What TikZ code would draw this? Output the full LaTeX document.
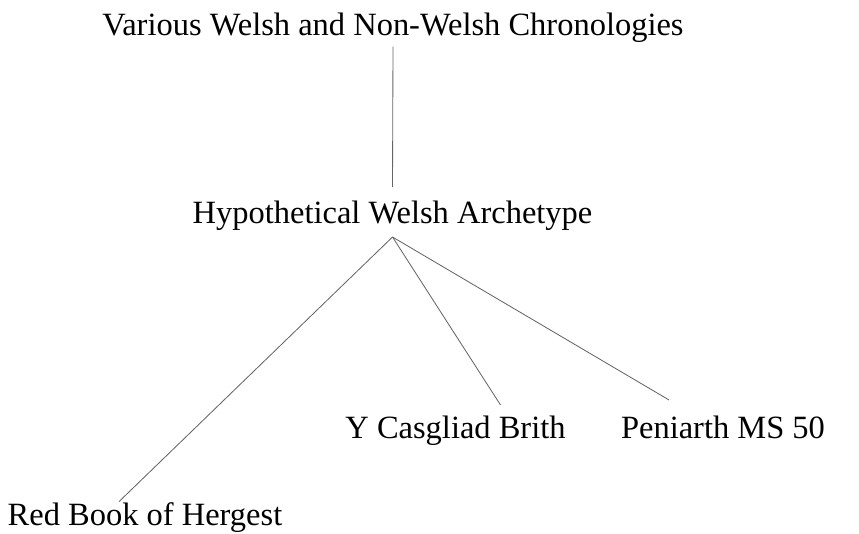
\documentclass[tikz,border=0pt]{standalone}
\usepackage{fontspec}
\setmainfont{Liberation Serif}
\usetikzlibrary{calc}

\begin{document}
\begin{tikzpicture}[x=0.025cm,y=-0.025cm,
 ms/.style={anchor=base,inner sep=3pt,font=\fontsize{23.1}{27}\selectfont},
 link/.style={draw=black!60,line width=0.6pt}]
\useasboundingbox (0,0) rectangle (859,533);
\node[ms] (title) at (393,35) {Various Welsh and Non-Welsh Chronologies};
\node[ms] (arch) at (392.5,223) {Hypothetical Welsh Archetype};
\node[ms] (red) at (145,525) {Red Book of Hergest};
\node[ms] (brith) at (455.5,438) {Y Casgliad Brith};
\node[ms] (pen) at (723,438) {Peniarth MS 50};
\coordinate (apex) at ($(arch.base)+(0,14)$);
\draw[link] (title.south) -- ($(arch.base)+(0,-36)$);
\draw[link] (apex) -- ($(red.north)+(-26,4)$);
\draw[link] (apex) -- ($(brith.north)+(45,-6)$);
\draw[link] (apex) -- ($(pen.north)+(-54,-11)$);
\end{tikzpicture}
\end{document}
